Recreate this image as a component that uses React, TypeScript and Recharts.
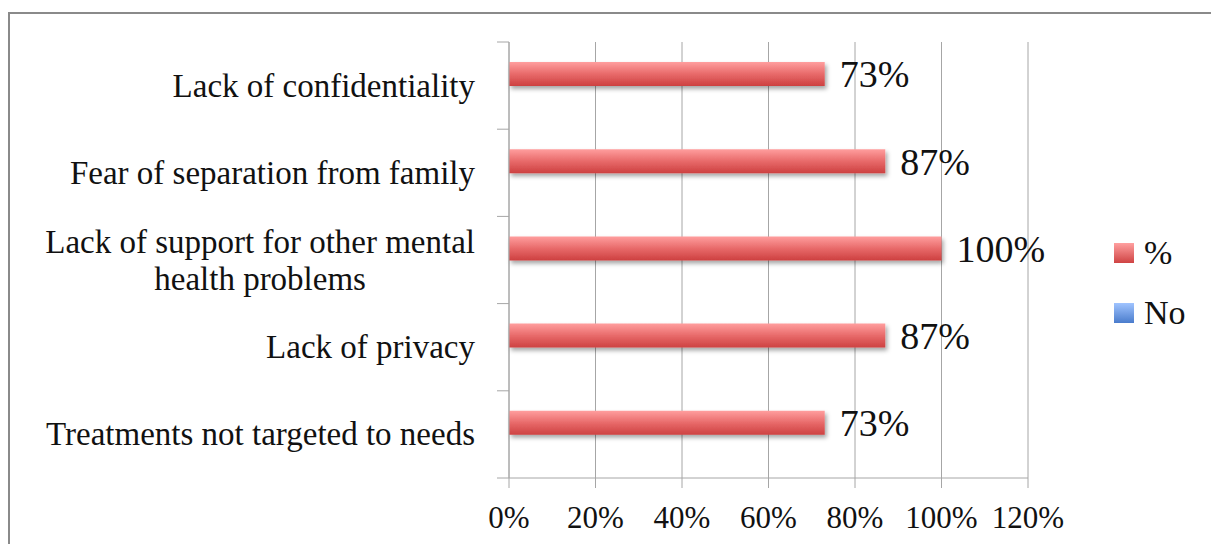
import { BarChart, Bar, XAxis, YAxis, CartesianGrid, Legend, LabelList } from "recharts";

const categories = [
  "Lack of confidentiality",
  "Fear of separation from family",
  "Lack of support for other mental|health problems",
  "Lack of privacy",
  "Treatments not targeted to needs",
];
const percentValues = [0.73, 0.87, 1.0, 0.87, 0.73];
const noValues: (number | null)[] = [null, null, null, null, null];
const xTicks = [0, 0.2, 0.4, 0.6, 0.8, 1.0, 1.2];

const data = categories.map((c, i) => ({
  name: c,
  pct: percentValues[i],
  no: noValues[i],
}));

const FONT = "'Liberation Serif', 'Times New Roman', serif";
const CAT_SIZE = 33;
const GRID = "#a6a6a6";

let ctx: CanvasRenderingContext2D | null = null;
const measure = (s: string) => {
  if (!ctx) ctx = document.createElement("canvas").getContext("2d");
  if (!ctx) return s.length * CAT_SIZE * 0.45;
  ctx.font = `${CAT_SIZE}px ${FONT}`;
  return ctx.measureText(s).width;
};

const CategoryTick = (props: any) => {
  const { x, y, payload, index } = props;
  const half = payload?.offset || 43.6;
  const lines = String(payload.value).split("|");
  const right = x - 34;
  const widest = Math.max(...lines.map(measure));
  const cx = right - widest / 2;
  const base = y + 11;
  const spacing = 37;
  const start = base - ((lines.length - 1) * spacing) / 2;
  return (
    <g>
      <line x1={x - 12} x2={x} y1={y - half} y2={y - half} stroke={GRID} />
      {index === categories.length - 1 && (
        <line x1={x - 12} x2={x} y1={y + half} y2={y + half} stroke={GRID} />
      )}
      {lines.map((l, i) => (
        <text
          key={i}
          x={lines.length > 1 ? cx : right}
          y={start + i * spacing}
          textAnchor={lines.length > 1 ? "middle" : "end"}
          fontFamily={FONT}
          fontSize={CAT_SIZE}
          fill="#111"
        >
          {l}
        </text>
      ))}
    </g>
  );
};

const LegendContent = (props: any) => {
  const items = props.payload || [];
  const grads: Record<string, string> = {
    pct: "linear-gradient(#ffa0a0, #cf4343)",
    no: "linear-gradient(#a0c4ff, #4a7ccc)",
  };
  return (
    <div style={{ fontFamily: FONT, fontSize: 34, color: "#111" }}>
      {items.map((it: any, i: number) => (
        <div key={i} style={{ display: "flex", alignItems: "center", height: 60 }}>
          <span
            style={{
              width: 20,
              height: 20,
              background: grads[it.dataKey] || it.color,
              marginRight: 10,
              display: "inline-block",
            }}
          />
          <span>{it.value}</span>
        </div>
      ))}
    </div>
  );
};

const App = () => {
  return (
    <div
      style={{
        position: "fixed",
        left: 0,
        top: 0,
        width: 1211,
        height: 544,
        overflow: "hidden",
        background: "#fff",
      }}
    >
      <div
        style={{
          position: "absolute",
          left: 8,
          top: 12,
          width: 1260,
          height: 600,
          borderTop: "2px solid #8a8a8a",
          borderLeft: "2px solid #8a8a8a",
          boxSizing: "border-box",
        }}
      />
      <div style={{ position: "absolute", left: 8, top: 8 }}>
        <BarChart
          width={1195}
          height={528}
          data={data}
          layout="vertical"
          margin={{ top: 34, right: 85, left: 0, bottom: 0 }}
          barGap={0}
          barSize={24}
        >
          <defs>
            <linearGradient id="redGrad" x1="0" y1="0" x2="0" y2="1">
              <stop offset="0%" stopColor="#ff9e9e" />
              <stop offset="50%" stopColor="#e86a6a" />
              <stop offset="100%" stopColor="#cd4040" />
            </linearGradient>
            <linearGradient id="blueGrad" x1="0" y1="0" x2="0" y2="1">
              <stop offset="0%" stopColor="#a0c4ff" />
              <stop offset="100%" stopColor="#4a7ccc" />
            </linearGradient>
            <filter id="barShadow" x="-5%" y="-30%" width="110%" height="180%">
              <feDropShadow dx="2" dy="3" stdDeviation="2" floodColor="#000" floodOpacity="0.35" />
            </filter>
          </defs>
          <CartesianGrid vertical horizontal={false} stroke={GRID} />
          <XAxis
            type="number"
            domain={[0, 1.2]}
            ticks={xTicks}
            tickFormatter={(v: number) => `${Math.round(v * 100)}%`}
            stroke={GRID}
            tickSize={10}
            tickMargin={18}
            height={58}
            interval={0}
            tick={{ fontFamily: FONT, fontSize: 31, fill: "#111" }}
          />
          <YAxis
            type="category"
            dataKey="name"
            width={501}
            stroke={GRID}
            tickLine={false}
            tickSize={0}
            tickMargin={0}
            interval={0}
            tick={<CategoryTick />}
          />
          <Legend
            layout="vertical"
            align="right"
            verticalAlign="middle"
            content={<LegendContent />}
            wrapperStyle={{ left: 1106, top: 215, width: 90 }}
          />
          <Bar
            dataKey="pct"
            name="%"
            fill="url(#redGrad)"
            filter="url(#barShadow)"
            isAnimationActive={false}
          >
            <LabelList
              dataKey="pct"
              position="right"
              offset={15}
              formatter={(v: any) => `${Math.round(Number(v) * 100)}%`}
              style={{ fontFamily: FONT, fontSize: 38, fill: "#111" }}
            />
          </Bar>
          <Bar dataKey="no" name="No" fill="url(#blueGrad)" isAnimationActive={false} />
        </BarChart>
      </div>
    </div>
  );
};

export default App;
